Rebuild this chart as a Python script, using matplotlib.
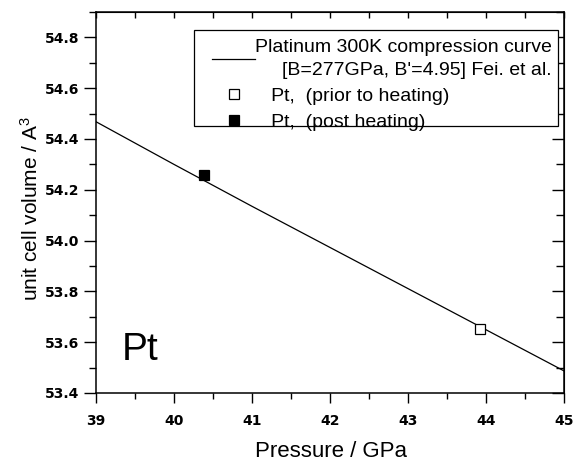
import matplotlib
matplotlib.use("Agg")
import matplotlib.pyplot as plt
from matplotlib.ticker import MultipleLocator
from matplotlib.patches import Rectangle

# Data
curve_p = [39.0, 40.0, 41.0, 42.0, 43.0, 44.0, 45.0]
curve_v = [54.468, 54.300, 54.135, 53.973, 53.811, 53.649, 53.487]
prior_p = [43.92]
prior_v = [53.652]
post_p = [40.39]
post_v = [54.258]

plt.rcParams['mathtext.fontset'] = 'custom'
plt.rcParams['mathtext.rm'] = 'Liberation Sans'
plt.rcParams['mathtext.it'] = 'Liberation Sans'

fig = plt.figure(figsize=(5.77, 4.62), dpi=100)
ax = fig.add_axes([96/577, 1-393/462, (564-96)/577, (393-12)/462])

ax.plot(curve_p, curve_v, color='black', lw=0.9,
        label="Platinum 300K compression curve\n[B=277GPa, B'=4.95] Fei. et al.")
ax.plot(prior_p, prior_v, ls='none', marker='s', ms=7, mfc='white', mec='black', mew=0.9,
        label='   Pt,  (prior to heating)')
ax.plot(post_p, post_v, ls='none', marker='s', ms=7, mfc='black', mec='black', mew=0.9,
        label='   Pt,  (post heating)')

ax.set_xlim(39, 45)
ax.set_ylim(53.4, 54.9)
ax.xaxis.set_major_locator(MultipleLocator(1))
ax.xaxis.set_minor_locator(MultipleLocator(0.5))
ax.yaxis.set_major_locator(MultipleLocator(0.2))
ax.yaxis.set_minor_locator(MultipleLocator(0.1))
ax.yaxis.set_major_formatter(matplotlib.ticker.FormatStrFormatter('%.1f'))

ax.tick_params(which='both', direction='out', top=False, right=False, width=1)
ax.tick_params(axis='x', which='major', length=7, pad=8)
ax.tick_params(axis='x', which='minor', length=4)
ax.tick_params(axis='y', which='major', length=9, pad=3)
ax.tick_params(axis='y', which='minor', length=5)
for lab in ax.get_xticklabels() + ax.get_yticklabels():
    lab.set_fontweight('bold')
    lab.set_fontsize(10)
    lab.set_family('DejaVu Sans')

# inward ticks on top and right
axt = ax.secondary_xaxis('top')
axt.xaxis.set_major_locator(MultipleLocator(0.5))
axt.tick_params(direction='in', length=4, labeltop=False, width=1)
axr = ax.secondary_yaxis('right')
axr.yaxis.set_major_locator(MultipleLocator(0.2))
axr.yaxis.set_minor_locator(MultipleLocator(0.1))
axr.tick_params(which='major', direction='in', length=9, labelright=False, width=1)
axr.tick_params(which='minor', direction='in', length=6, width=1)

for s in ax.spines.values():
    s.set_linewidth(1.1)

ax.set_xlabel('Pressure / GPa', family='Liberation Sans', fontsize=16)
ax.xaxis.set_label_coords(0.503, -0.125)
ax.set_ylabel(r'unit cell volume / A$^{3}$', family='Liberation Sans', fontsize=15)
ax.yaxis.set_label_coords(-0.115, 0.483)

ax.text(39.33, 53.528, 'Pt', family='Liberation Sans', fontsize=28)

# legend frame drawn as a rectangle (axes coordinates)
frame = Rectangle((0.2094, 0.7008), 0.987 - 0.2094, 0.9528 - 0.7008, transform=ax.transAxes,
                  facecolor='white', edgecolor='black', lw=0.9, zorder=4)
ax.add_patch(frame)

leg = ax.legend(loc='upper right', bbox_to_anchor=(0.987, 0.945), frameon=False,
                prop={'family': 'Liberation Sans', 'size': 14},
                handlelength=2.2, handletextpad=0.0, labelspacing=0.42, borderpad=0.3,
                borderaxespad=0)
leg.set_zorder(5)
leg.get_texts()[0].set_multialignment('right')
leg.get_texts()[0].set_linespacing(1.5)

fig.savefig('out.png', dpi=100)
